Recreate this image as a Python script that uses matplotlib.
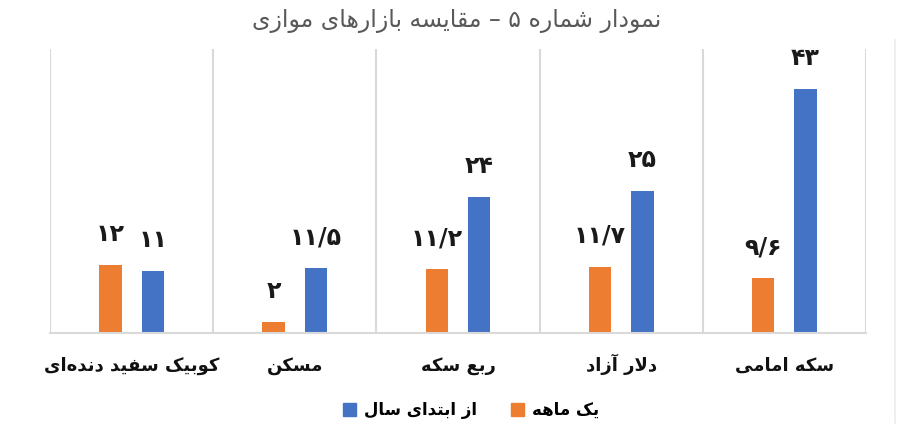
import matplotlib
matplotlib.use("Agg")
import matplotlib.pyplot as plt
from matplotlib.patches import Patch
from matplotlib.lines import Line2D
import matplotlib.transforms as mtransforms
import numpy as np

orangeColor = "#ED7D31"
blueColor = "#4472C4"
gridColor = "#D9D9D9"
titleColor = "#595959"

title = "نمودار شماره ۵ – مقایسه بازارهای موازی"
categories = ["سکه امامی", "دلار آزاد", "ربع سکه", "مسکن", "کوبیک سفید دنده‌ای"]
series_names = ["یک ماهه", "از ابتدای سال"]
one_month = [9.6, 11.7, 11.2, 2, 12]
since_new_year = [43, 25, 24, 11.5, 11]
one_month_labels = ["۹/۶", "۱۱/۷", "۱۱/۲", "۲", "۱۲"]
since_new_year_labels = ["۴۳", "۲۵", "۲۴", "۱۱/۵", "۱۱"]

# presentation forms: isolated, final, initial, medial (None = right-joining only)
FORMS = {
    "ا": ("\uFE8D", "\uFE8E", None, None),
    "آ": ("\uFE81", "\uFE82", None, None),
    "ب": ("\uFE8F", "\uFE90", "\uFE91", "\uFE92"),
    "پ": ("\uFB56", "\uFB57", "\uFB58", "\uFB59"),
    "ت": ("\uFE95", "\uFE96", "\uFE97", "\uFE98"),
    "د": ("\uFEA9", "\uFEAA", None, None),
    "ر": ("\uFEAD", "\uFEAE", None, None),
    "ز": ("\uFEAF", "\uFEB0", None, None),
    "س": ("\uFEB1", "\uFEB2", "\uFEB3", "\uFEB4"),
    "ش": ("\uFEB5", "\uFEB6", "\uFEB7", "\uFEB8"),
    "ع": ("\uFEC9", "\uFECA", "\uFECB", "\uFECC"),
    "ف": ("\uFED1", "\uFED2", "\uFED3", "\uFED4"),
    "ق": ("\uFED5", "\uFED6", "\uFED7", "\uFED8"),
    "ک": ("\uFB8E", "\uFB8F", "\uFB90", "\uFB91"),
    "ل": ("\uFEDD", "\uFEDE", "\uFEDF", "\uFEE0"),
    "م": ("\uFEE1", "\uFEE2", "\uFEE3", "\uFEE4"),
    "ن": ("\uFEE5", "\uFEE6", "\uFEE7", "\uFEE8"),
    "ه": ("\uFEE9", "\uFEEA", "\uFEEB", "\uFEEC"),
    "و": ("\uFEED", "\uFEEE", None, None),
    "ی": ("\uFBFC", "\uFBFD", "\uFBFE", "\uFBFF"),
}
LAM_ALEF = {"ا": ("\uFEFB", "\uFEFC"), "آ": ("\uFEF5", "\uFEF6")}


def dual(c):
    return c in FORMS and FORMS[c][2] is not None


def fa(text):
    # shape letters into presentation forms, then reverse for right-to-left
    chars = list(text)
    out = []
    i = 0
    n = len(chars)
    while i < n:
        c = chars[i]
        prev_joins = i > 0 and dual(chars[i - 1])
        if c == "ل" and i + 1 < n and chars[i + 1] in LAM_ALEF:
            out.append(LAM_ALEF[chars[i + 1]][1 if prev_joins else 0])
            i += 2
            continue
        if c in FORMS:
            next_joins = dual(c) and i + 1 < n and chars[i + 1] in FORMS
            iso, fin, ini, med = FORMS[c]
            if prev_joins and next_joins:
                out.append(med)
            elif prev_joins:
                out.append(fin)
            elif next_joins:
                out.append(ini)
            else:
                out.append(iso)
        elif c == "\u200c":
            pass
        else:
            out.append(c)
        i += 1
    return "".join(reversed(out))


fig = plt.figure(figsize=(9, 4.37), dpi=100)
ax = fig.add_axes([50 / 900, 104 / 437, 816 / 900, 284 / 437])

x = np.arange(len(categories))
w = 0.138
off = 0.13
ax.bar(x + off, one_month, w, color=orangeColor)
ax.bar(x - off, since_new_year, w, color=blueColor)

for xi, v, lab in zip(x, one_month, one_month_labels):
    ax.annotate(lab, (xi + off, v), xytext=(0, 22), textcoords="offset points",
                ha="center", va="center", fontsize=17, fontweight="bold",
                color="#1a1a1a", family="DejaVu Sans")
for xi, v, lab in zip(x, since_new_year, since_new_year_labels):
    ax.annotate(lab, (xi - off, v), xytext=(0, 22), textcoords="offset points",
                ha="center", va="center", fontsize=17, fontweight="bold",
                color="#1a1a1a", family="DejaVu Sans")

for b in np.arange(len(categories) + 1) - 0.5:
    ax.axvline(b, color=gridColor, lw=1.5, zorder=0)

ax.set_xlim(-0.5, len(categories) - 0.5)
ax.invert_xaxis()
ax.set_ylim(0, 50)
ax.set_yticks([])
ax.set_xticks([])
trans = mtransforms.blended_transform_factory(ax.transData, ax.transAxes)
for xi, c in zip(x, categories):
    ax.text(xi, -38 / 284, fa(c), transform=trans, ha="center", va="baseline",
            fontsize=13, fontweight="bold", color="#111111")
for s in ["top", "left", "right"]:
    ax.spines[s].set_visible(False)
ax.spines["bottom"].set_color(gridColor)
ax.spines["bottom"].set_linewidth(1.5)

fig.text(0.507, 1 - 21 / 437, fa(title), ha="center", va="center",
         fontsize=17, color=titleColor)

handles = [Patch(color=blueColor), Patch(color=orangeColor)]
fig.legend(handles, [fa(series_names[1]), fa(series_names[0])], ncol=2,
           loc="center", bbox_to_anchor=(471 / 900, 1 - 410 / 437), frameon=False,
           prop={"size": 12, "weight": "bold"}, handlelength=0.8, handleheight=0.8,
           handletextpad=0.5, columnspacing=2.0)

fig.add_artist(Line2D([895 / 900, 895 / 900], [1 - 423 / 437, 1 - 40 / 437],
                      color="#ececec", lw=1.2))

fig.savefig("out.png", dpi=100, facecolor="white")
